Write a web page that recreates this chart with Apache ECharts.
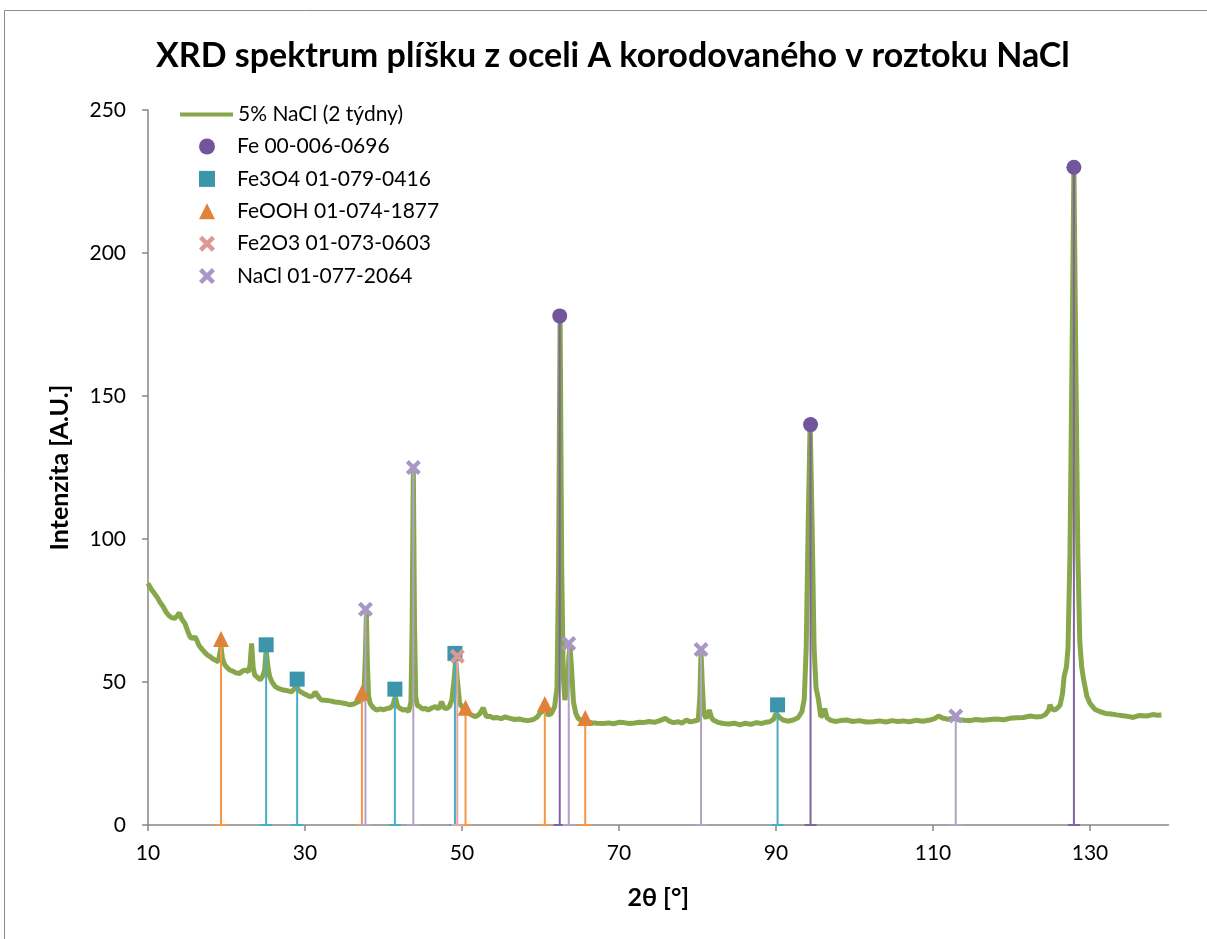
<!DOCTYPE html>
<html>
<head>
<meta charset="utf-8">
<title>XRD spektrum</title>
<script src="https://cdn.jsdelivr.net/npm/echarts@6/dist/echarts.min.js"></script>
<style>
  html, body { margin: 0; padding: 0; background: #fff; }
  #chart { width: 1207px; height: 939px; }
</style>
</head>
<body>
<div id="chart"></div>
<script>
// měřené spektrum, 2θ / intenzita
const spectrumX = [
  10.0, 10.4, 10.8, 11.2, 11.5, 11.9, 12.3, 12.6, 13.0, 13.4, 13.7, 14.0, 14.3, 14.7, 15.1, 15.4, 15.7, 16.0, 16.2, 16.5,
  16.8, 17.2, 17.5, 17.9, 18.3, 18.6, 18.96, 19.15, 19.3, 19.5, 19.8, 20.1, 20.4, 20.8, 21.2, 21.7, 22.0, 22.4, 22.8, 23.0,
  23.2, 23.4, 23.6, 24.0, 24.3, 24.6, 24.85, 25.05, 25.3, 25.5, 25.8, 26.2, 26.6, 27.2, 27.7, 28.3, 28.6, 28.9, 29.2, 29.8,
  30.2, 30.6, 31.0, 31.3, 31.5, 31.8, 32.1, 32.6, 33.2, 33.8, 34.5, 35.1, 35.7, 36.2, 36.8, 37.2, 37.5, 37.7, 37.82, 37.95,
  38.1, 38.3, 38.7, 39.1, 39.6, 40.0, 40.4, 40.9, 41.2, 41.5, 41.8, 42.1, 42.5, 42.9, 43.2, 43.5, 43.65, 43.8, 43.95, 44.1,
  44.3, 44.6, 45.0, 45.3, 45.7, 46.2, 46.6, 47.0, 47.4, 47.7, 48.05, 48.4, 48.7, 49.0, 49.2, 49.4, 49.7, 50.1, 50.6, 51.1,
  51.65, 52.0, 52.3, 52.7, 53.1, 53.6, 54.0, 54.4, 55.0, 55.5, 56.1, 56.7, 57.3, 57.8, 58.4, 59.1, 59.6, 59.9, 60.3, 60.6,
  61.0, 61.4, 61.8, 62.1, 62.3, 62.5, 62.7, 62.9, 63.1, 63.35, 63.6, 63.75, 63.95, 64.2, 64.5, 64.8, 65.3, 65.9, 66.5, 67.2,
  68.0, 68.7, 69.3, 70.0, 70.6, 71.3, 72.0, 72.6, 73.1, 73.8, 74.5, 75.2, 75.9, 76.4, 76.9, 77.6, 78.0, 78.6, 79.0, 79.5,
  80.1, 80.3, 80.45, 80.6, 80.8, 81.1, 81.5, 81.8, 82.0, 82.6, 83.3, 84.0, 84.7, 85.4, 86.1, 86.8, 87.5, 88.2, 88.8, 89.2,
  89.7, 90.0, 90.2, 90.5, 90.9, 91.5, 92.2, 92.8, 93.3, 93.6, 93.85, 94.1, 94.35, 94.6, 94.85, 95.1, 95.4, 95.7, 96.0, 96.2,
  96.5, 96.9, 97.5, 98.2, 99.0, 99.8, 100.6, 101.5, 102.4, 103.2, 104.0, 104.8, 105.5, 106.2, 107.0, 107.8, 108.7, 109.6, 110.2, 110.7,
  111.2, 111.9, 112.6, 113.3, 114.0, 114.7, 115.5, 116.3, 117.3, 118.1, 119.0, 119.8, 120.6, 121.5, 122.4, 123.1, 123.8, 124.3, 124.7, 124.9,
  125.2, 125.5, 125.9, 126.2, 126.5, 126.7, 127.0, 127.2, 127.45, 127.7, 127.95, 128.2, 128.45, 128.7, 128.95, 129.2, 129.6, 130.0, 130.6, 131.3,
  132.0, 132.7, 133.4, 134.2, 135.0, 135.5, 136.3, 137.2, 138.0, 138.6, 139.1
];
const spectrumY = [
  84.5, 82.5, 81, 79.5, 78, 76.5, 74.5, 73.4, 72.5, 72.3, 73, 74.2, 72, 70.5, 67.5, 65.5, 65.3, 65.8, 64.7, 62.8,
  61.7, 60.5, 59.6, 58.9, 58, 57.6, 57.1, 60, 62.3, 58, 55.9, 55, 54.2, 53.8, 53.2, 53.0, 53.8, 54.2, 53.6, 56,
  63.5, 55, 52.4, 51.5, 50.7, 52, 54, 61.2, 55, 51.9, 50, 48.4, 47.8, 47.2, 47, 46.6, 47.5, 49.0, 47, 46.0,
  45.5, 44.9, 45.2, 46.5, 47, 44.5, 43.7, 43.6, 43.4, 43.0, 42.8, 42.5, 42.0, 42.3, 43.1, 43.5, 45, 60, 74, 56,
  45, 42.5, 41, 40.2, 40.6, 40.3, 40.7, 41, 42, 44.9, 41.5, 40.8, 40.2, 40.4, 39.6, 43, 70, 125, 70, 45,
  41.8, 41.4, 40.5, 40.8, 40.2, 41, 41.4, 40.6, 43.1, 41, 40.7, 41.5, 43.7, 51, 57.7, 51, 42.5, 41, 39.6, 38.6,
  37.9, 38.3, 39.0, 41, 37.9, 38, 37.4, 37.6, 37.2, 37.8, 37.3, 36.9, 37.1, 36.7, 36.5, 36.9, 37.8, 39, 40.2, 39.5,
  38.5, 39, 41.4, 48, 90, 178, 90, 52, 43.7, 47, 58, 63, 55, 43, 39, 37.3, 36.4, 36.1, 35.8, 35.6,
  35.5, 35.7, 35.4, 35.9, 35.8, 35.5, 35.7, 35.9, 35.8, 36.2, 35.9, 36.5, 37.3, 36.3, 35.8, 36.1, 35.6, 36.7, 36.1, 36.3,
  36.7, 45, 60.5, 50, 39, 37.3, 40.2, 37.5, 36.7, 35.9, 35.5, 35.3, 35.6, 35.0, 35.6, 35.2, 35.8, 35.5, 36, 36.1,
  37, 39, 39.6, 37.5, 36.7, 36.3, 36.7, 37.5, 39.6, 44, 62, 105, 141, 105, 62, 48, 44, 37.9, 38.5, 40.7,
  37.5, 36.7, 36.2, 36.5, 36.7, 36.2, 36.5, 36.0, 36.1, 36.4, 36.0, 36.5, 36.2, 36.4, 36.1, 36.6, 36.3, 36.7, 37.2, 38.1,
  37.4, 37.0, 37.3, 36.8, 36.6, 36.5, 36.9, 36.6, 36.9, 37.1, 36.8, 37.3, 37.5, 37.6, 38.1, 37.8, 37.9, 38.6, 40, 42.0,
  40.5, 40.2, 41, 42.0, 46, 51.9, 55.3, 62, 95, 160, 230, 160, 95, 64, 55, 50.7, 45, 42.5, 40.5, 39.6,
  39, 38.8, 38.5, 38.2, 37.9, 37.6, 38.3, 38.1, 38.6, 38.4, 38.5
];

// referenční difrakční linie (poloha 2θ, výška)
const feX = [62.45, 94.4, 127.95];
const feY = [178, 140, 230];
const fe3o4X = [25.05, 29.0, 41.45, 49.1, 90.2];
const fe3o4Y = [63, 51, 47.5, 60, 42];
const feoohX = [19.3, 37.25, 50.45, 60.55, 65.7];
const feoohY = [65, 46.2, 41, 42.3, 37.4];
const fe2o3X = [49.4];
const fe2o3Y = [59];
const naclX = [37.7, 43.8, 63.6, 80.45, 112.9];
const naclY = [75.4, 125, 63.5, 61.4, 38.1];

const xLabels = [10, 30, 50, 70, 90, 110, 130];

const font = 'Lato';
const crossPath = 'path://M0,2 L2,0 L5,3 L8,0 L10,2 L7,5 L10,8 L8,10 L5,7 L2,10 L0,8 L3,5 Z';

function pairs (xs, ys) {
  return xs.map((x, i) => [x, ys[i]]);
}

function phase (name, xs, ys, symbol, markerColor, stickColor, size) {
  const data = pairs(xs, ys);
  return [
    {
      name: name + ' linie',
      type: 'custom',
      z: 3,
      silent: true,
      encode: { x: 0, y: 1 },
      data: data,
      renderItem (params, api) {
        const top = api.coord([api.value(0), api.value(1)]);
        const base = api.coord([api.value(0), 0]);
        return {
          type: 'group',
          children: [
            { type: 'line', shape: { x1: base[0], y1: base[1], x2: top[0], y2: top[1] }, style: { stroke: stickColor, lineWidth: 2 } },
            { type: 'line', shape: { x1: base[0] - 6, y1: base[1], x2: base[0] + 6, y2: base[1] }, style: { stroke: stickColor, lineWidth: 2 } }
          ]
        };
      }
    },
    {
      name: name,
      type: 'scatter',
      z: 4,
      symbol: symbol,
      symbolSize: size,
      itemStyle: { color: markerColor, opacity: 1 },
      data: data
    }
  ];
}

const chart = echarts.init(document.getElementById('chart'));
chart.setOption({
  backgroundColor: '#ffffff',
  animation: false,
  textStyle: { fontFamily: font },
  title: {
    text: 'XRD spektrum plíšku z oceli A korodovaného v roztoku NaCl',
    left: 156,
    top: 39,
    padding: 0,
    textStyle: { fontFamily: font, fontSize: 34, fontWeight: 'bold', color: '#000' }
  },
  graphic: [{
    type: 'rect',
    shape: { x: 4.5, y: 10.5, width: 1210, height: 960 },
    style: { fill: null, stroke: '#8c8c8c', lineWidth: 1 },
    silent: true
  }],
  legend: [
    {
      data: [{ name: '5% NaCl (2 týdny)', icon: 'rect' }],
      left: 180,
      top: 104,
      padding: 0,
      itemWidth: 53,
      itemHeight: 4,
      textStyle: { fontFamily: font, fontSize: 21, color: '#000' }
    },
    {
      data: ['Fe 00-006-0696', 'Fe3O4 01-079-0416', 'FeOOH 01-074-1877', 'Fe2O3 01-073-0603', 'NaCl 01-077-2064'],
      orient: 'vertical',
      left: 199,
      top: 136,
      padding: 0,
      itemGap: 11.4,
      itemWidth: 16,
      itemHeight: 16,
      textStyle: { fontFamily: font, fontSize: 21, color: '#000', padding: [0, 0, 0, 17] }
    }
  ],
  grid: { left: 148, right: 38.5, top: 110, bottom: 114 },
  xAxis: {
    type: 'value',
    min: 10,
    max: 140,
    interval: 10,
    name: '2θ [°]',
    nameLocation: 'middle',
    nameGap: 60,
    nameTextStyle: { fontFamily: font, fontSize: 25, fontWeight: 'bold', color: '#000' },
    axisLine: { show: true, onZero: false, lineStyle: { color: '#868686', width: 1.5 } },
    axisTick: { show: true, length: 6, customValues: xLabels, lineStyle: { color: '#868686', width: 1.5 } },
    axisLabel: { customValues: xLabels, margin: 18, fontFamily: font, fontSize: 21, color: '#000' },
    splitLine: { show: false }
  },
  yAxis: {
    type: 'value',
    min: 0,
    max: 250,
    interval: 50,
    name: 'Intenzita [A.U.]',
    nameLocation: 'middle',
    nameGap: 76,
    nameTextStyle: { fontFamily: font, fontSize: 25, fontWeight: 'bold', color: '#000' },
    axisLine: { show: true, lineStyle: { color: '#868686', width: 1.5 } },
    axisTick: { show: true, length: 6, lineStyle: { color: '#868686', width: 1.5 } },
    axisLabel: { margin: 22, fontFamily: font, fontSize: 21, color: '#000' },
    splitLine: { show: false }
  },
  series: [
    {
      name: '5% NaCl (2 týdny)',
      type: 'line',
      z: 2,
      symbol: 'none',
      data: pairs(spectrumX, spectrumY),
      lineStyle: { color: '#88A64A', width: 5 },
      itemStyle: { color: '#88A64A' }
    },
    ...phase('Fe 00-006-0696', feX, feY, 'circle', '#72559B', '#8064A2', 15),
    ...phase('Fe3O4 01-079-0416', fe3o4X, fe3o4Y, 'rect', '#3C95AB', '#4BACC6', 15),
    ...phase('FeOOH 01-074-1877', feoohX, feoohY, 'triangle', '#E0823A', '#F79646', 16),
    ...phase('Fe2O3 01-073-0603', fe2o3X, fe2o3Y, crossPath, '#DD9795', '#E3A6A4', 15),
    ...phase('NaCl 01-077-2064', naclX, naclY, crossPath, '#A897C4', '#B3A2C7', 15)
  ]
});
</script>
</body>
</html>
